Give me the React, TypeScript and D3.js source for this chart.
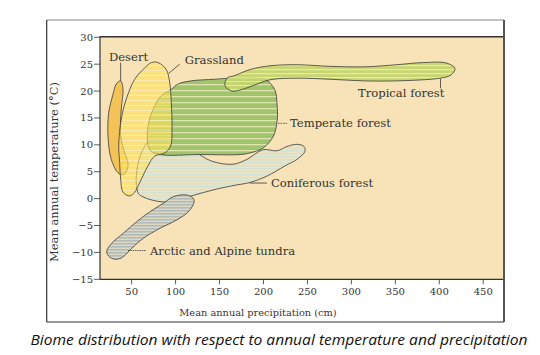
import React from 'react';
import * as d3 from 'd3';

type P = [number, number];

// Axis ticks
const xTicks = [50, 100, 150, 200, 250, 300, 350, 400, 450];
const yTicks = [-15, -10, -5, 0, 5, 10, 15, 20, 25, 30];

// Biome outlines: [precipitation (cm), temperature (°C)]
const coniferous: P[] = [
  [57.2, 1.1], [55.3, 4.2], [61.0, 8.5], [72.4, 11.3], [86.8, 12.5], [99.3, 12.1],
  [110.7, 10.3], [122.1, 8.8], [140.6, 7.0], [165.3, 6.4], [181.2, 7.3], [199.4, 9.1],
  [215.4, 8.9], [226.8, 9.7], [238.1, 10.1], [246.1, 9.7], [247.2, 8.8], [238.1, 7.3],
  [224.6, 6.1], [204.0, 4.2], [184.6, 3.0], [167.8, 2.5], [144.8, 1.7], [117.9, 0.5],
  [95.1, -0.6], [76.6, -0.4], [61.0, 0.5],
];
const tundra: P[] = [
  [120.1, 0.06], [112.6, 0.68], [97.4, 0.36], [86.0, -0.87], [70.9, -2.43], [55.7, -4.29],
  [40.5, -6.45], [27.3, -8.31], [21.6, -9.87], [25.4, -10.91], [33.0, -11.28], [40.5, -10.8],
  [50.1, -9.23], [63.3, -7.37], [82.3, -5.51], [101.3, -3.97], [114.5, -2.43], [120.9, -0.75],
];
const temperate: P[] = [
  [95.1, 20.3], [102.7, 21.3], [117.9, 21.9], [144.5, 22.2], [178.6, 22.5], [201.4, 22.2],
  [212.7, 20.3], [215.4, 17.6], [215.7, 14.8], [211.2, 11.6], [199.4, 9.4], [184.6, 8.5],
  [173.3, 8.2], [127.8, 8.2], [82.3, 8.2], [70.9, 9.0], [67.8, 11.6], [69.4, 14.1],
  [74.3, 16.6], [83.4, 19.1],
];
const tropical: P[] = [
  [156.2, 21.0], [158.5, 22.4], [167.6, 22.9], [184.6, 24.0], [207.4, 24.7], [237.8, 24.9],
  [275.7, 24.6], [313.6, 24.5], [351.6, 24.9], [381.8, 25.3], [408.4, 25.2], [417.9, 24.2],
  [413.3, 23.0], [400.8, 22.4], [351.6, 21.9], [313.6, 21.9], [275.7, 22.2], [237.8, 22.4],
  [207.4, 22.1], [184.6, 20.8], [173.3, 20.2], [163.8, 20.0],
];
const desert: P[] = [
  [37.5, 21.9], [40.2, 20.3], [38.2, 16.7], [37.5, 11.6], [42.1, 8.5], [45.8, 6.7],
  [45.1, 5.5], [40.2, 4.4], [34.5, 4.8], [26.8, 7.3], [23.1, 11.6], [23.9, 16.0],
  [28.8, 19.4], [32.5, 21.3],
];
const grassland: P[] = [
  [80.0, 25.3], [89.4, 24.0], [93.3, 21.6], [95.1, 17.8], [95.9, 12.9], [94.4, 9.8],
  [87.6, 8.5], [76.2, 7.9], [68.6, 6.1], [59.2, 3.0], [53.5, 1.2], [47.8, 0.5],
  [40.2, 1.2], [37.5, 3.6], [36.4, 6.7], [35.3, 9.8], [38.2, 14.8], [43.9, 18.5],
  [53.5, 22.2], [64.8, 24.3], [72.4, 25.3],
];

// Labels: text, anchor point [cm, °C]
const labelNames = ['Desert', 'Grassland', 'Tropical forest', 'Temperate forest', 'Coniferous forest', 'Arctic and Alpine tundra'];
const labelPos: P[] = [[24.2, 25.6], [110.4, 25.0], [307.5, 18.9], [230.2, 13.3], [208.5, 2.2], [70.9, -10.4]];
// Leader lines
const leaders: P[][] = [
  [[37.5, 25.3], [37.5, 21.9]],
  [[92.2, 23.3], [104.7, 25.0]],
  [[401.4, 22.3], [401.4, 20.5]],
  [[216.5, 14.0], [226.9, 14.0]],
  [[184.6, 2.9], [204.0, 2.9]],
  [[45.9, -9.65], [66.3, -9.65]],
];
const leaderDash = ['', '', '', '1.5,1', '', '1.5,0.8'];

export default function App() {
  const W = 540, H = 355;
  const x = d3.scaleLinear().domain([14, 472.5]).range([100, 503]);
  const y = d3.scaleLinear().domain([-15, 30]).range([279.3, 37.3]);
  const shape = d3.line<P>().x(d => x(d[0])).y(d => y(d[1])).curve(d3.curveCatmullRomClosed.alpha(0.5));
  const seg = d3.line<P>().x(d => x(d[0])).y(d => y(d[1]));
  const serif = "'DejaVu Serif', serif";
  const stroke = '#3a3a3a';
  const textCol = '#333';
  const [x0, x1] = x.range();
  const [yb, yt] = y.range();

  return (
    <svg width={W} height={H} style={{ position: 'absolute', left: 0, top: 0, background: '#fff' }}>
      <defs>
        <pattern id="pTemp" patternUnits="userSpaceOnUse" width="10" height="6">
          <rect width="10" height="6" fill="#a2c46e" />
          <rect y="0" width="10" height="1.3" fill="#dfe6ab" />
        </pattern>
        <pattern id="pTrop" patternUnits="userSpaceOnUse" width="10" height="4">
          <rect width="10" height="4" fill="#c4d56c" />
          <rect y="1" width="10" height="1.2" fill="#ebe8a6" />
        </pattern>
        <pattern id="pCon" patternUnits="userSpaceOnUse" width="10" height="3">
          <rect width="10" height="3" fill="#eee4c2" />
          <rect y="0" width="10" height="1.5" fill="#d3e2d3" />
        </pattern>
        <pattern id="pTun" patternUnits="userSpaceOnUse" width="10" height="3">
          <rect width="10" height="3" fill="#dcd8c4" />
          <rect y="0" width="10" height="1.6" fill="#b3bbb8" />
        </pattern>
        <pattern id="pGrass" patternUnits="userSpaceOnUse" width="10" height="5">
          <rect width="10" height="5" fill="#ffe25a" />
          <rect y="0" width="10" height="1" fill="#fff2b0" />
        </pattern>
      </defs>

      {/* outer frame */}
      <line x1={46.7} y1={20} x2={504} y2={20} stroke="#888" strokeWidth={1.2} />
      <line x1={46.7} y1={20} x2={46.7} y2={322} stroke="#333" strokeWidth={1.2} />
      <line x1={46.7} y1={322} x2={504} y2={322} stroke="#333" strokeWidth={1.2} />
      <line x1={504} y1={20} x2={504} y2={322} stroke="#555" strokeWidth={2} />

      {/* plot background */}
      <rect x={x0} y={yt - 0.6} width={x1 - x0} height={yb - yt + 0.6} fill="#f7e3b7" />

      {/* biomes */}
      <path d={shape(coniferous) || ''} fill="url(#pCon)" stroke={stroke} strokeWidth={0.8} />
      <path d={shape(tundra) || ''} fill="url(#pTun)" stroke={stroke} strokeWidth={0.8} />
      <path d={shape(temperate) || ''} fill="url(#pTemp)" stroke={stroke} strokeWidth={0.8} />
      <path d={shape(tropical) || ''} fill="url(#pTrop)" fillOpacity={0.92} stroke={stroke} strokeWidth={0.8} />
      <path d={shape(desert) || ''} fill="#f3c35a" stroke={stroke} strokeWidth={0.8} />
      <path d={shape(grassland) || ''} fill="url(#pGrass)" fillOpacity={0.6} stroke={stroke} strokeWidth={0.8} />

      {/* leaders */}
      {leaders.map((l, i) => (
        <path key={i} d={seg(l) || ''} fill="none" stroke={stroke} strokeWidth={0.8} strokeDasharray={leaderDash[i]} />
      ))}
      {labelNames.map((t, i) => (
        <text key={t} x={x(labelPos[i][0])} y={y(labelPos[i][1])} fontFamily={serif} fontSize={11.6} fill={textCol}>{t}</text>
      ))}

      {/* axes */}
      <line x1={x0} y1={yt - 0.6} x2={x1} y2={yt - 0.6} stroke="#333" strokeWidth={1.5} />
      <line x1={x0} y1={yt - 1} x2={x0} y2={yb} stroke="#333" strokeWidth={1.2} />
      <line x1={x0} y1={yb} x2={x1} y2={yb} stroke="#333" strokeWidth={1.2} />
      {yTicks.map(t => (
        <g key={t}>
          <line x1={x0 - 6} x2={x0} y1={y(t)} y2={y(t)} stroke="#333" strokeWidth={0.8} />
          <text x={x0 - 7} y={y(t)} dy="0.35em" textAnchor="end" fontFamily={serif} fontSize={10} fill={textCol}>
            {t < 0 ? '\u2212' + Math.abs(t) : String(t)}
          </text>
        </g>
      ))}
      {xTicks.map(t => (
        <g key={t}>
          <line x1={x(t)} x2={x(t)} y1={yb} y2={yb + 5} stroke="#333" strokeWidth={0.8} />
          <text x={x(t)} y={yb + 16} textAnchor="middle" fontFamily={serif} fontSize={10} fill={textCol}>{t}</text>
        </g>
      ))}
      <text transform={`translate(58,172) rotate(-90)`} textAnchor="middle" fontFamily={serif} fontSize={11.5}
        textLength={180} lengthAdjust="spacingAndGlyphs" fill={textCol}>
        Mean annual temperature (°C)
      </text>
      <text x={258} y={316} textAnchor="middle" fontFamily={serif} fontSize={9.8} fill={textCol}>
        Mean annual precipitation (cm)
      </text>

      {/* caption */}
      <text x={279} y={345} textAnchor="middle" fontFamily="'Open Sans', sans-serif" fontStyle="italic" fontSize={14.5}
        textLength={497} lengthAdjust="spacingAndGlyphs" fill="#111">
        Biome distribution with respect to annual temperature and precipitation
      </text>
    </svg>
  );
}
